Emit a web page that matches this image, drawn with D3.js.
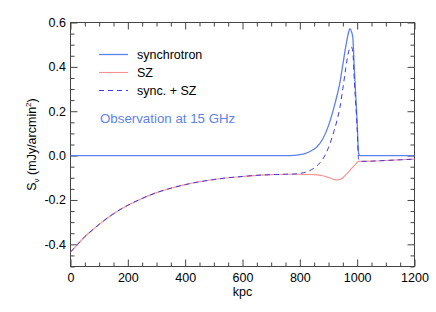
<!DOCTYPE html>
<html><head><meta charset="utf-8">
<script src="https://cdn.jsdelivr.net/npm/d3@7"></script>
<style>body{margin:0;background:#fff}svg{display:block}text{font-family:"Liberation Sans",Arial,Helvetica,sans-serif}</style>
</head><body><svg id="c" width="436" height="312"></svg>
<script>
const kpc   = [0,25,50,75,100,150,200,250,300,350,400,450,500,550,600,650,700,750,780,800,820,840,860,880,900,920,930,940,950,960,970,975,980,985,990,1000,1005,1010,1050,1100,1150,1200];
const synchrotron = [0,0,0,0,0,0,0,0,0,0,0,0,0,0,0,0,0,0,0.001,0.004,0.010,0.022,0.040,0.075,0.135,0.222,0.272,0.330,0.410,0.490,0.555,0.572,0.560,0.530,0.390,0.150,0.010,0,0,0,0,0];
const sz = [-0.435,-0.400,-0.365,-0.337,-0.310,-0.262,-0.224,-0.193,-0.167,-0.147,-0.131,-0.118,-0.108,-0.100,-0.094,-0.089,-0.086,-0.084,-0.084,-0.084,-0.085,-0.085,-0.087,-0.091,-0.099,-0.108,-0.110,-0.108,-0.100,-0.087,-0.074,-0.067,-0.059,-0.052,-0.045,-0.031,-0.026,-0.026,-0.025,-0.022,-0.019,-0.016];
const syncSZ = [-0.435,-0.400,-0.365,-0.337,-0.310,-0.262,-0.224,-0.193,-0.167,-0.147,-0.131,-0.118,-0.108,-0.100,-0.094,-0.089,-0.086,-0.084,-0.083,-0.080,-0.075,-0.064,-0.046,-0.016,0.036,0.114,0.160,0.218,0.302,0.392,0.468,0.488,0.490,0.465,0.340,0.119,-0.016,-0.026,-0.025,-0.022,-0.019,-0.016];
const xTicks = [0,200,400,600,800,1000,1200];
const yTicks = [-0.4,-0.2,0.0,0.2,0.4,0.6];
const legendLabels = ["synchrotron","SZ","sync. + SZ"];

const svg = d3.select("#c");
const L=70.5, R=414.5, T=22.5, B=266.5;
const x = d3.scaleLinear().domain([0,1200]).range([L,R]);
const y = d3.scaleLinear().domain([-0.5,0.6]).range([B,T]);
const axisCol="#444";

svg.append("rect").attr("x",L).attr("y",T).attr("width",R-L).attr("height",B-T)
  .attr("fill","none").attr("stroke",axisCol).attr("stroke-width",1);

const fmtY = d=> d3.format(".1f")(d).replace("−","-");
const xMinor = d3.range(0,1201,50), yMinor = d3.range(-0.5,0.601,0.05);

function ticks(){
  const g = svg.append("g");
  g.append("g").attr("transform",`translate(0,${B})`).call(d3.axisTop(x).tickValues(xMinor).tickSizeInner(4).tickSizeOuter(0).tickFormat(""))
   .call(s=>s.selectAll(".tick line").attr("y2",d=>xTicks.includes(d)?-7:-4));
  g.append("g").attr("transform",`translate(0,${T})`).call(d3.axisBottom(x).tickValues(xMinor).tickSizeInner(4).tickSizeOuter(0).tickFormat(""))
   .call(s=>s.selectAll(".tick line").attr("y2",d=>xTicks.includes(d)?7:4));
  g.append("g").attr("transform",`translate(${L},0)`).call(d3.axisRight(y).tickValues(yMinor).tickSizeInner(4).tickSizeOuter(0).tickFormat(""))
   .call(s=>s.selectAll(".tick line").attr("x2",(d,i)=>(i%4===2)?7:4));
  g.append("g").attr("transform",`translate(${R},0)`).call(d3.axisLeft(y).tickValues(yMinor).tickSizeInner(4).tickSizeOuter(0).tickFormat(""))
   .call(s=>s.selectAll(".tick line").attr("x2",(d,i)=>(i%4===2)?-7:-4));
  g.selectAll(".domain").remove();
  g.selectAll("line").attr("stroke",axisCol);
  const xl = svg.append("g").attr("transform",`translate(0,${B})`)
    .call(d3.axisBottom(x).tickValues(xTicks).tickSize(0).tickPadding(7).tickFormat(d3.format("d")));
  xl.select(".domain").remove();
  xl.selectAll("text").attr("font-size",12.5).attr("fill","#000").attr("font-family","Liberation Sans, Arial, sans-serif");
  const yl = svg.append("g").attr("transform",`translate(${L},0)`)
    .call(d3.axisLeft(y).tickValues(yTicks).tickSize(0).tickPadding(4.5).tickFormat(fmtY));
  yl.select(".domain").remove();
  yl.selectAll("text").attr("font-size",12.5).attr("fill","#000").attr("font-family","Liberation Sans, Arial, sans-serif");
}
ticks();

const line = ys => d3.line().x((d,i)=>x(kpc[i])).y((d,i)=>y(ys[i])).curve(d3.curveMonotoneX)(kpc);
const colSync="#5f82ea", colSZ="#f79090", colSum="#3a3ae8";
svg.append("path").attr("d",line(synchrotron)).attr("fill","none").attr("stroke",colSync).attr("stroke-width",1.3);
svg.append("path").attr("d",line(sz)).attr("fill","none").attr("stroke",colSZ).attr("stroke-width",1.1);
svg.append("path").attr("d",line(syncSZ)).attr("fill","none").attr("stroke",colSum).attr("stroke-width",1).attr("stroke-dasharray","5,4");

const leg = [{c:colSync,w:1.3,d:null,y:54.5},{c:colSZ,w:1.1,d:null,y:72.5},{c:colSum,w:1,d:"5,4",y:90.5}];
leg.forEach((l,i)=>{
  svg.append("line").attr("x1",99).attr("x2",128).attr("y1",l.y).attr("y2",l.y)
    .attr("stroke",l.c).attr("stroke-width",l.w).attr("stroke-dasharray",l.d);
  svg.append("text").attr("x",137).attr("y",l.y+4).attr("font-size",12.5).attr("fill","#000").text(legendLabels[i]);
});
svg.append("text").attr("x",100).attr("y",122.5).attr("font-size",13.3).attr("fill","#5f82ea").text("Observation at 15 GHz");

svg.append("text").attr("x",(L+R)/2).attr("y",296).attr("text-anchor","middle").attr("font-size",12.5).text("kpc");
const yt = svg.append("text").attr("transform",`translate(36,${(T+B)/2}) rotate(-90)`).attr("text-anchor","middle").attr("font-size",12.5);
yt.append("tspan").text("S");
yt.append("tspan").attr("font-size",8).attr("dy",2.5).text("ν");
yt.append("tspan").attr("dy",-2.5).text(" (mJy/arcmin");
yt.append("tspan").attr("font-size",8).attr("dy",-5).text("2");
yt.append("tspan").attr("dy",5).text(")");
</script></body></html>
